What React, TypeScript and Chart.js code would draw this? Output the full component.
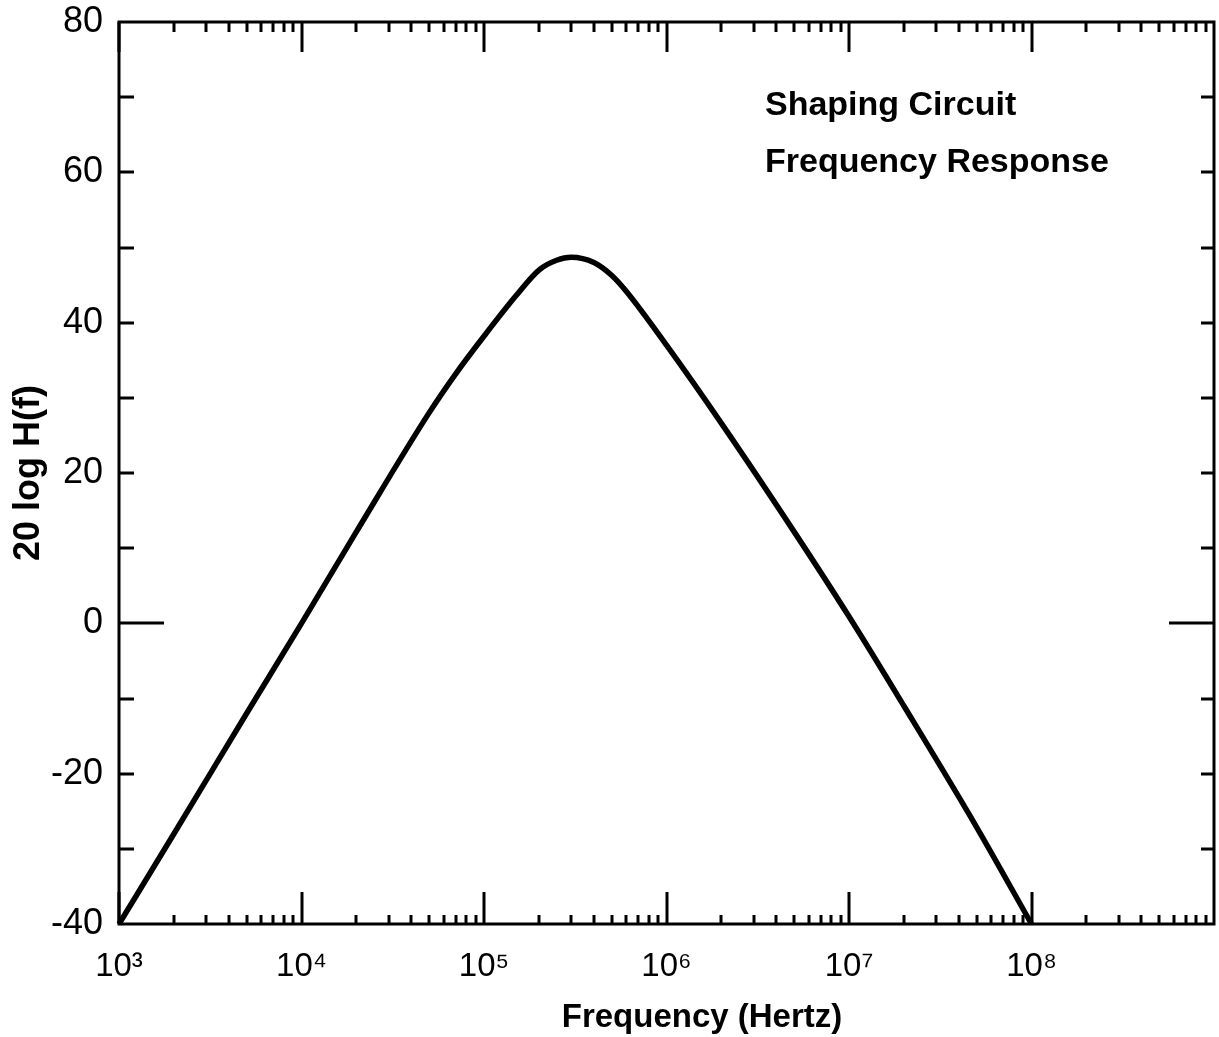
import React, { useEffect, useRef } from "react";
import { Chart, registerables } from "chart.js";

Chart.register(...registerables);

// ---- data ----
const frequencies = [
  1e3, 2e3, 5e3, 1e4, 2e4, 5e4, 7e4, 1e5, 1.5e5, 2e5, 2.5e5, 3e5, 4e5, 5e5, 6e5, 1e6, 2e6, 5e6, 1e7, 2e7, 5e7, 1e8,
];
const gainDb = [
  -40, -28, -12, 0, 12.2, 28, 33.2, 38.2, 43.6, 47, 48.3, 48.7, 48, 46.3, 44.2, 37, 26.6, 12.2, 0.9, -11, -27.1, -40,
];
const xDecadeTicks = [1e3, 1e4, 1e5, 1e6, 1e7, 1e8];
const xTickLabels = ["10³", "10⁴", "10⁵", "10⁶", "10⁷", "10⁸"];
const yMinorTicks = [-30, -20, -10, 0, 10, 20, 30, 40, 50, 60, 70];
const titleLines = ["Shaping Circuit", "Frequency Response"];
const xTitle = "Frequency (Hertz)";
const yTitle = "20 log H(f)";

const FONT = "'Liberation Sans', 'DejaVu Sans', Arial, sans-serif";

const decorPlugin = {
  id: "decor",
  beforeDatasetsDraw(chart: any) {
    const { ctx, chartArea, scales } = chart;
    const { left, right, top, bottom } = chartArea;
    const x = scales.x;
    const y = scales.y;
    ctx.save();
    ctx.strokeStyle = "#000";
    ctx.lineWidth = 3;
    ctx.lineCap = "butt";
    ctx.strokeRect(left, top, right - left, bottom - top);

    ctx.beginPath();
    // x ticks: decades and 2..9 minors, bottom and top, pointing inward
    for (let d = 3; d <= 8; d++) {
      const base = Math.pow(10, d);
      for (let m = 1; m <= 9; m++) {
        const v = base * m;
        if (v > 1e9) continue;
        const px = Math.round(x.getPixelForValue(v));
        const major = m === 1;
        const lb = major ? 32 : 9;
        const lt = major ? 30 : 10;
        ctx.moveTo(px, bottom);
        ctx.lineTo(px, bottom - lb);
        ctx.moveTo(px, top);
        ctx.lineTo(px, top + lt);
      }
    }
    // y ticks, left and right
    for (const v of yMinorTicks) {
      const py = Math.round(y.getPixelForValue(v));
      const ll = v === 0 ? 45 : 15;
      const lr = v === 0 ? 45 : 13;
      ctx.moveTo(left, py);
      ctx.lineTo(left + ll, py);
      ctx.moveTo(right, py);
      ctx.lineTo(right - lr, py);
    }
    ctx.stroke();
    ctx.restore();
  },
  afterDraw(chart: any) {
    const { ctx } = chart;
    ctx.save();
    ctx.fillStyle = "#000";
    ctx.font = `bold 34px ${FONT}`;
    ctx.textAlign = "left";
    ctx.textBaseline = "alphabetic";
    ctx.fillText(titleLines[0], 765, 115);
    ctx.fillText(titleLines[1], 765, 172);
    ctx.font = `bold 33px ${FONT}`;
    ctx.textAlign = "center";
    ctx.textBaseline = "middle";
    ctx.fillText(xTitle, 702, 1018);
    ctx.restore();
  },
};

export default function App() {
  const canvasRef = useRef<HTMLCanvasElement | null>(null);

  useEffect(() => {
    const canvas = canvasRef.current;
    if (!canvas) return;
    const chart = new Chart(canvas, {
      type: "line",
      data: {
        labels: frequencies,
        datasets: [
          {
            data: frequencies.map((f, i) => ({ x: f, y: gainDb[i] })),
            borderColor: "#000",
            borderWidth: 5.5,
            pointRadius: 0,
            cubicInterpolationMode: "monotone",
            fill: false,
            clip: 8,
          } as any,
        ],
      },
      options: {
        animation: false,
        responsive: true,
        maintainAspectRatio: false,
        layout: { padding: { top: 22, right: 5, left: 0, bottom: 0 } },
        plugins: {
          legend: { display: false },
          tooltip: { enabled: false },
          title: { display: false },
        },
        scales: {
          x: {
            type: "logarithmic",
            min: 1e3,
            max: 1e9,
            grid: { display: false },
            border: { display: false },
            afterBuildTicks: (scale: any) => {
              scale.ticks = xDecadeTicks.map((v) => ({ value: v }));
            },
            afterFit: (scale: any) => {
              scale.height = 113;
              scale.paddingLeft = 0;
              scale.paddingRight = 0;
            },
            ticks: {
              autoSkip: false,
              maxRotation: 0,
              padding: 15,
              color: "#000",
              font: { family: FONT, size: 33 },
              callback: (value: any) => {
                const i = xDecadeTicks.indexOf(Number(value));
                return i >= 0 ? xTickLabels[i] : "";
              },
            },
          },
          y: {
            type: "linear",
            min: -40,
            max: 80,
            grid: { display: false },
            border: { display: false },
            afterFit: (scale: any) => {
              scale.width = 119;
              scale.paddingTop = 0;
              scale.paddingBottom = 0;
            },
            ticks: {
              stepSize: 20,
              padding: 8,
              color: "#000",
              font: { family: FONT, size: 36 },
            },
            title: {
              display: true,
              text: yTitle,
              color: "#000",
              font: { family: FONT, size: 36, weight: "bold" },
              padding: { top: 7, bottom: 0 },
            },
          },
        },
      },
      plugins: [decorPlugin],
    });
    return () => chart.destroy();
  }, []);

  return (
    <div style={{ position: "fixed", left: 0, top: 0, width: 1219, height: 1037, background: "#fff" }}>
      <canvas ref={canvasRef} />
    </div>
  );
}
